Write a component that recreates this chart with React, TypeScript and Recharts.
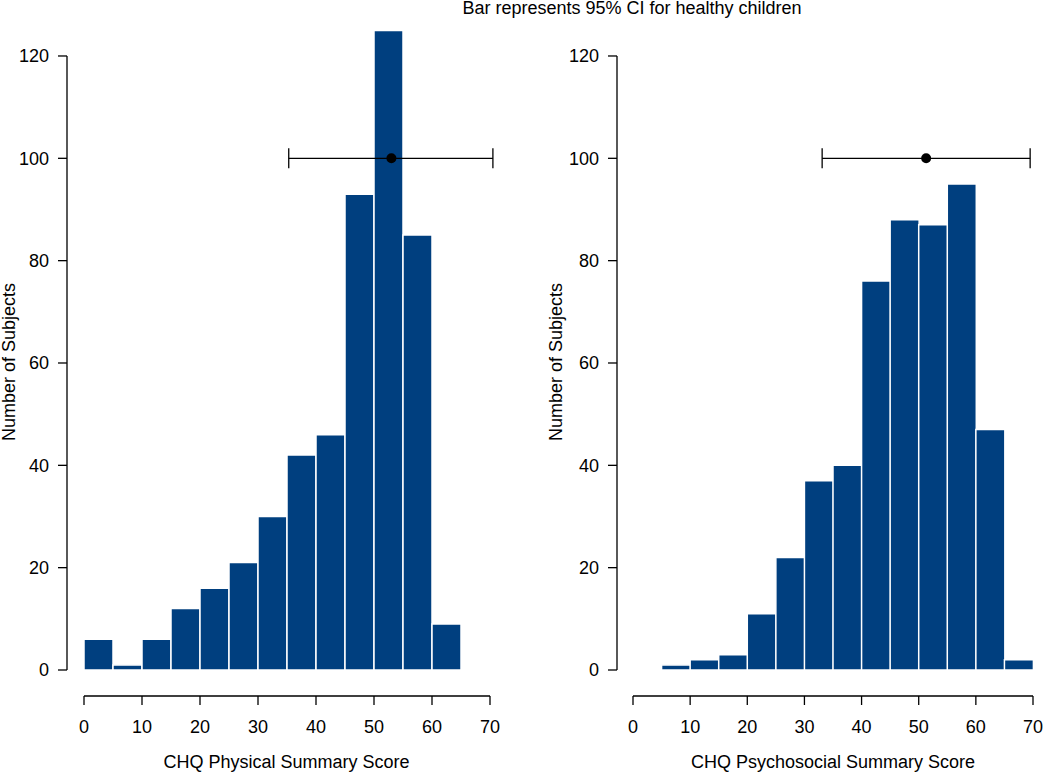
import React from 'react';
import { ComposedChart, Bar, Scatter, ErrorBar, XAxis, YAxis } from 'recharts';

const binStarts = [0, 5, 10, 15, 20, 25, 30, 35, 40, 45, 50, 55, 60, 65];
const physicalCounts = [6, 1, 6, 12, 16, 21, 30, 42, 46, 93, 125, 85, 9, 0];
const psychosocialCounts = [0, 1, 2, 3, 11, 22, 37, 40, 76, 88, 87, 95, 47, 2];
const xTicks = [0, 10, 20, 30, 40, 50, 60, 70];
const yTicks = [0, 20, 40, 60, 80, 100, 120];

// healthy-children reference: mean and 95% CI bounds
const physicalCI = { mean: 53, low: 35.3, high: 70.5 };
const psychosocialCI = { mean: 51.3, low: 33.1, high: 69.5 };

const BLUE = '#003F7F';
const FONT = '"Liberation Sans", Arial, Helvetica, sans-serif';

interface PanelProps {
  counts: number[];
  ci: { mean: number; low: number; high: number };
  xLabel: string;
  left: number;
  yAxisWidth: number;
  padLeft: number;
  span: number;
  marginRight: number;
  yLabelGap: number;
  labelDx: number;
}

const Panel: React.FC<PanelProps> = ({ counts, ci, xLabel, left, yAxisWidth, padLeft, span, marginRight, yLabelGap, labelDx }) => {
  const data = binStarts.map((s, i) => ({ bin: `${s}-${s + 5}`, count: counts[i] }));
  const ciPoint = [{ x: ci.mean, count: 100, err: [ci.mean - ci.low, ci.high - ci.mean] }];
  const axisStroke = { stroke: '#000', strokeWidth: 1.3 };

  return (
    <div style={{ position: 'absolute', left, top: 0 }}>
      <ComposedChart
        width={525}
        height={772}
        data={data}
        barCategoryGap={0}
        barGap={0}
        margin={{ top: 26, right: marginRight, bottom: 0, left: 0 }}
      >
        <XAxis xAxisId="cat" dataKey="bin" type="category" hide height={0} padding={{ left: padLeft, right: 10 }} />
        <XAxis
          xAxisId="num"
          dataKey="x"
          type="number"
          domain={[0, 70]}
          allowDataOverflow
          ticks={xTicks}
          interval={0}
          height={76}
          padding={{ left: padLeft, right: 10 }}
          axisLine={{ ...axisStroke, strokeDasharray: `0 ${padLeft} ${span} 2000` }}
          tickLine={axisStroke}
          tickSize={9}
          tickMargin={15}
          tick={{ fill: '#000', fontSize: 18 }}
          label={{ value: xLabel, position: 'insideBottom', offset: 4, fill: '#000', fontSize: 18, dx: labelDx }}
        />
        <YAxis
          dataKey="count"
          type="number"
          domain={[0, 125]}
          ticks={yTicks}
          interval={0}
          width={yAxisWidth}
          padding={{ top: 4.4, bottom: 26 }}
          axisLine={{ ...axisStroke, strokeDasharray: '0 30 614 2000' }}
          tickLine={axisStroke}
          tickSize={9}
          tickMargin={9}
          tick={{ fill: '#000', fontSize: 18 }}
          label={{
            content: (props: any) => {
              const vb = props.viewBox;
              const x = vb.x + vb.width - yLabelGap;
              const y = vb.y + vb.height / 2 + 1;
              return (
                <text x={x} y={y} transform={`rotate(-90 ${x} ${y})`} textAnchor="middle" fill="#000" fontSize={18}>
                  Number of Subjects
                </text>
              );
            },
          }}
        />
        <Bar xAxisId="cat" dataKey="count" fill={BLUE} stroke="#fff" strokeWidth={1.5} isAnimationActive={false} />
        <Scatter
          xAxisId="num"
          data={ciPoint}
          fill="#000"
          isAnimationActive={false}
          shape={(p: any) => <circle cx={p.cx} cy={p.cy} r={5} fill="#000" />}
        >
          <ErrorBar dataKey="err" direction="x" width={10} stroke="#000" strokeWidth={1.3} isAnimationActive={false} />
        </Scatter>
      </ComposedChart>
    </div>
  );
};

export default function App() {
  return (
    <div style={{ position: 'absolute', left: 0, top: 0, width: 1050, height: 772, background: '#fff', fontFamily: FONT }}>
      <div
        style={{
          position: 'absolute',
          left: 632,
          top: -1,
          transform: 'translateX(-50%)',
          whiteSpace: 'nowrap',
          fontSize: 18,
          lineHeight: '18px',
          color: '#000',
          zIndex: 1,
        }}
      >
        Bar represents 95% CI for healthy children
      </div>
      <Panel
        counts={physicalCounts}
        ci={physicalCI}
        xLabel="CHQ Physical Summary Score"
        left={0}
        yAxisWidth={67}
        padLeft={17}
        span={406}
        marginRight={25}
        yLabelGap={52}
        labelDx={3}
      />
      <Panel
        counts={psychosocialCounts}
        ci={psychosocialCI}
        xLabel="CHQ Psychosocial Summary Score"
        left={525}
        yAxisWidth={92}
        padLeft={16}
        span={400}
        marginRight={7}
        yLabelGap={55}
        labelDx={3}
      />
    </div>
  );
}
